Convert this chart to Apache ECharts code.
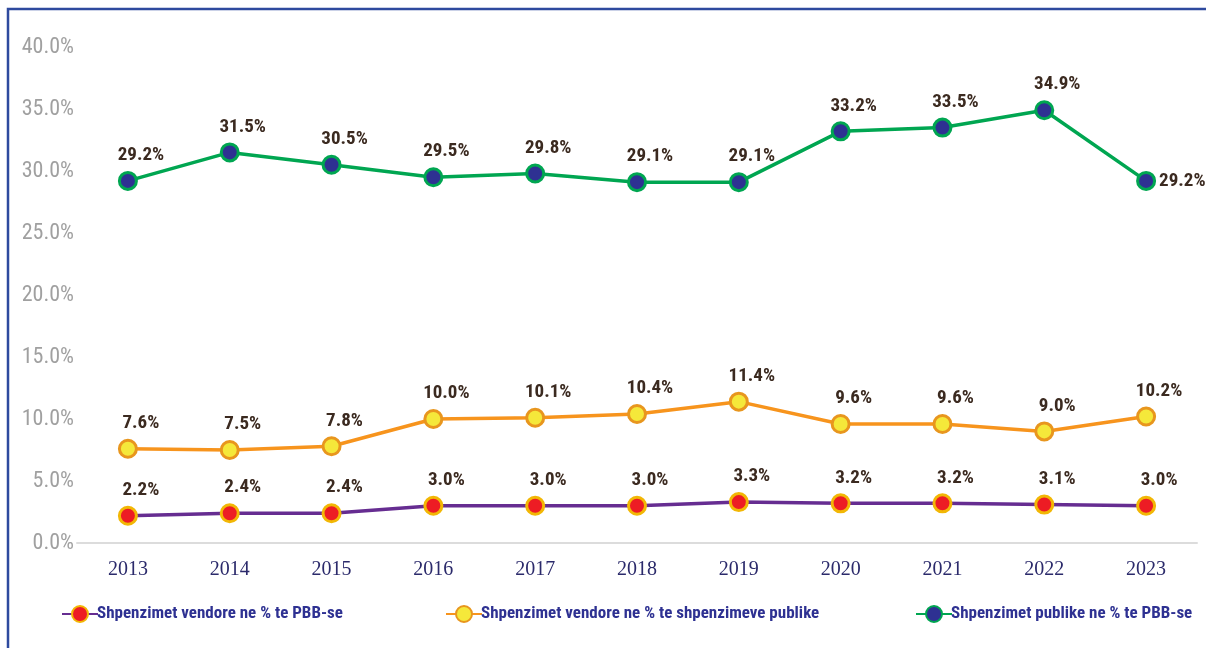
<!DOCTYPE html>
<html>
<head>
<meta charset="utf-8">
<script src="https://cdn.jsdelivr.net/npm/echarts@6/dist/echarts.min.js"></script>
<style>
  html, body { margin: 0; padding: 0; background: #fff; }
  #chart { width: 1206px; height: 648px; }
</style>
</head>
<body>
<div id="chart"></div>
<script>
const years = ['2013', '2014', '2015', '2016', '2017', '2018', '2019', '2020', '2021', '2022', '2023']
const localGdp = [2.2, 2.4, 2.4, 3.0, 3.0, 3.0, 3.3, 3.2, 3.2, 3.1, 3.0]
const localPublic = [7.6, 7.5, 7.8, 10.0, 10.1, 10.4, 11.4, 9.6, 9.6, 9.0, 10.2]
const publicGdp = [29.2, 31.5, 30.5, 29.5, 29.8, 29.1, 29.1, 33.2, 33.5, 34.9, 29.2]
const seriesNames = [
  'Shpenzimet vendore ne % te PBB-se',
  'Shpenzimet vendore ne % te shpenzimeve publike',
  'Shpenzimet publike ne % te PBB-se'
]

const narrow = "'Liberation Sans Narrow', 'Arial Narrow', 'Roboto Condensed', sans-serif"

const chart = echarts.init(document.getElementById('chart'))

function lineSeries(name, data, lineColor, fill, border) {
  return {
    name: name,
    type: 'line',
    data: data,
    symbol: 'circle',
    symbolSize: 17,
    lineStyle: { color: lineColor, width: 3.5 },
    itemStyle: { color: fill, borderColor: border, borderWidth: 3 },
    label: {
      show: true,
      position: 'top',
      distance: 6,
      offset: [13, 0],
      formatter: p => p.value.toFixed(1) + '%',
      color: '#3b2a20',
      fontFamily: narrow,
      fontWeight: 'bold',
      fontSize: 19
    },
    emphasis: { disabled: true },
    z: 3
  }
}

const greenSeries = lineSeries(seriesNames[2], publicGdp, '#00a651', '#2e3192', '#00a651')
greenSeries.data = publicGdp.map((v, i) => i === publicGdp.length - 1
  ? { value: v, label: { position: 'right', offset: [0, 0], distance: 3 } }
  : v)

function legendAt(left, name) {
  return {
    data: [name],
    left: left,
    top: 600,
    itemWidth: 36,
    itemHeight: 20,
    itemGap: 0,
    textStyle: {
      color: '#2e3192',
      fontFamily: narrow,
      fontWeight: 'bold',
      fontSize: 17,
      padding: [0, 0, 0, -6]
    }
  }
}

chart.setOption({
  animation: false,
  backgroundColor: '#fff',
  graphic: [{
    type: 'rect',
    shape: { x: 8, y: 9, width: 1220, height: 660 },
    style: { fill: 'none', stroke: '#2e4a9e', lineWidth: 2.5 },
    silent: true
  }],
  grid: { left: 77, right: 9, top: 47, bottom: 105, containLabel: false },
  legend: [
    legendAt(56, seriesNames[0]),
    legendAt(440, seriesNames[1]),
    legendAt(910, seriesNames[2])
  ],
  xAxis: {
    type: 'category',
    data: years,
    boundaryGap: true,
    axisLine: { show: true, lineStyle: { color: '#dcdcdc', width: 2 } },
    axisTick: { show: false },
    axisLabel: {
      color: '#2b2a6b',
      fontFamily: "'Liberation Serif', 'DejaVu Serif', serif",
      fontSize: 20,
      margin: 17
    }
  },
  yAxis: {
    type: 'value',
    min: 0,
    max: 40,
    interval: 5,
    axisLine: { show: false },
    axisTick: { show: false },
    splitLine: { show: false },
    axisLabel: {
      color: '#a0a0a0',
      fontFamily: narrow,
      fontSize: 22,
      margin: 3,
      formatter: v => v.toFixed(1) + '%'
    }
  },
  series: [
    lineSeries(seriesNames[0], localGdp, '#662d91', '#ed1c24', '#f2b705'),
    lineSeries(seriesNames[1], localPublic, '#f7941d', '#f5e83a', '#e8961e'),
    greenSeries
  ]
})
</script>
</body>
</html>
